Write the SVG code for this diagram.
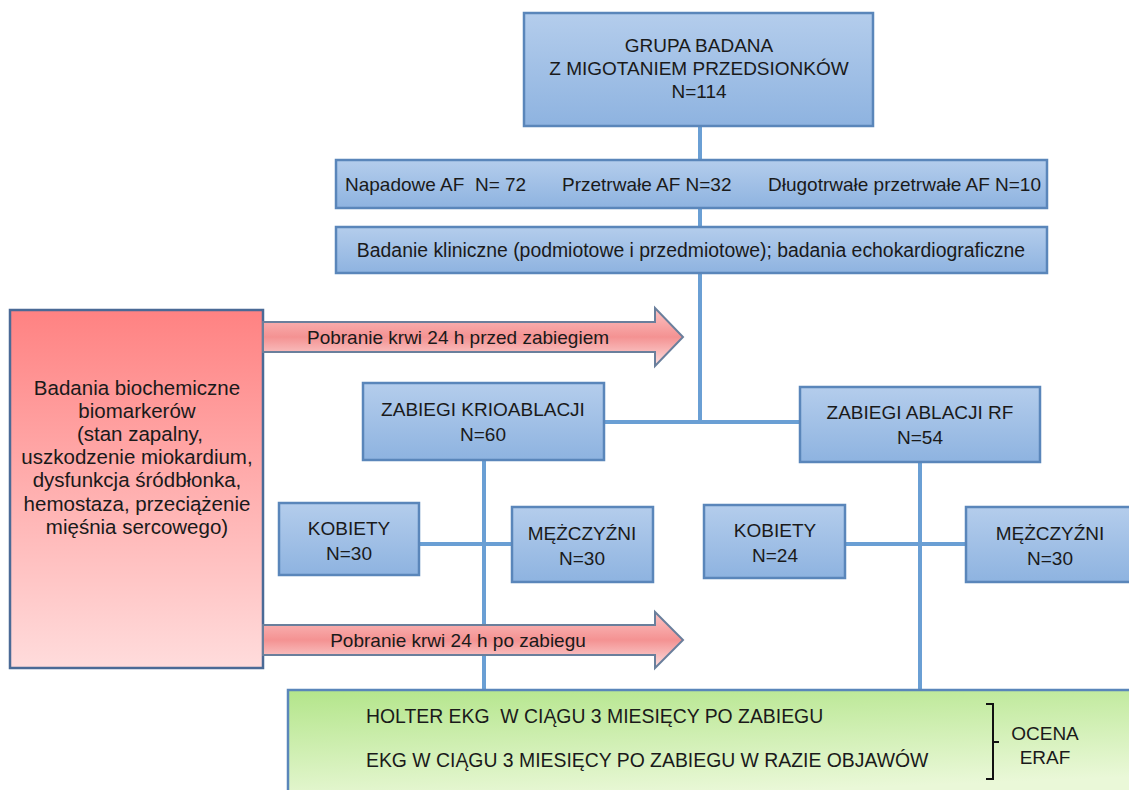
<svg xmlns="http://www.w3.org/2000/svg" width="1129" height="790" viewBox="0 0 1129 790">
<defs>
<linearGradient id="gBlue" x1="0" y1="0" x2="0" y2="1">
<stop offset="0" stop-color="#b4cdec"/>
<stop offset="1" stop-color="#8eb3e0"/>
</linearGradient>
<linearGradient id="gRed" x1="0" y1="0" x2="0" y2="1">
<stop offset="0" stop-color="#ff8282"/>
<stop offset="1" stop-color="#ffdcdc"/>
</linearGradient>
<linearGradient id="gArrow" x1="0" y1="0" x2="0" y2="1">
<stop offset="0" stop-color="#fcc4c4"/>
<stop offset="0.5" stop-color="#f49292"/>
<stop offset="1" stop-color="#fde0e0"/>
</linearGradient>
<linearGradient id="gGreen" x1="0" y1="0" x2="0.3" y2="1">
<stop offset="0" stop-color="#b3e58a"/>
<stop offset="1" stop-color="#eaf8d8"/>
</linearGradient>
</defs>
<style>
.box{fill:url(#gBlue);stroke:#5a86ba;stroke-width:2.5}
.red{fill:url(#gRed);stroke:#4a6a96;stroke-width:2.5}
.arr{fill:url(#gArrow);stroke:#6a7f9c;stroke-width:2}
.grn{fill:url(#gGreen);stroke:#5a86ba;stroke-width:2.5}
.con{fill:none;stroke:#6a9fd4;stroke-width:4}
text{font-family:"Liberation Sans",Arial,sans-serif;font-size:19px;fill:#1a1a1a}
.c{text-anchor:middle}
.lt{font-size:20.5px}
.g{font-size:19.4px}
.br{fill:none;stroke:#111;stroke-width:2}
</style>
<rect width="1129" height="790" fill="#ffffff"/>
<g id="connectors">
<path class="con" d="M700,126 V160"/>
<path class="con" d="M700,208 V227"/>
<path class="con" d="M700,273 V422 M604,422 H800"/>
<path class="con" d="M484,460 V690 M419,544 H512"/>
<path class="con" d="M920,462 V690 M845,544 H966"/>
</g>
<g id="n_top">
<rect class="box" x="524" y="13" width="349" height="113"/>
<text class="c" x="699" y="52">GRUPA BADANA</text>
<text class="c" x="699" y="75">Z MIGOTANIEM PRZEDSIONKÓW</text>
<text class="c" x="699" y="98">N=114</text>
</g>
<g id="n_types">
<rect class="box" x="336" y="160" width="711" height="48"/>
<text x="345" y="191" xml:space="preserve">Napadowe AF  N= 72</text>
<text x="562" y="191">Przetrwałe AF N=32</text>
<text x="768" y="191">Długotrwałe przetrwałe AF N=10</text>
</g>
<g id="n_clin">
<rect class="box" x="336" y="227" width="711" height="46"/>
<text class="c g" x="691" y="257">Badanie kliniczne (podmiotowe i przedmiotowe); badania echokardiograficzne</text>
</g>
<g id="n_bio">
<rect class="red" x="10" y="310" width="253" height="358"/>
<text class="c lt" x="137" y="395">Badania biochemiczne</text>
<text class="c lt" x="137" y="418">biomarkerów</text>
<text class="c lt" x="140" y="441">(stan zapalny,</text>
<text class="c lt" x="137" y="464">uszkodzenie miokardium,</text>
<text class="c lt" x="137" y="487">dysfunkcja śródbłonka,</text>
<text class="c lt" x="137" y="511">hemostaza, przeciążenie</text>
<text class="c lt" x="137" y="534">mięśnia sercowego)</text>
</g>
<g id="n_arrow1">
<path class="arr" d="M263,322 H655 V308 L683,337 L655,366 V352 H263 Z"/>
<text class="c" x="458" y="344">Pobranie krwi 24 h przed zabiegiem</text>
</g>
<g id="n_arrow2">
<path class="arr" d="M263,625 H655 V612 L683,640 L655,668 V655 H263 Z"/>
<text class="c" x="458" y="647">Pobranie krwi 24 h po zabiegu</text>
</g>
<g id="n_krio">
<rect class="box" x="363" y="383" width="241" height="77"/>
<text class="c" x="483" y="416">ZABIEGI KRIOABLACJI</text>
<text class="c" x="483" y="441">N=60</text>
</g>
<g id="n_rf">
<rect class="box" x="800" y="387" width="240" height="75"/>
<text class="c" x="920" y="419">ZABIEGI ABLACJI RF</text>
<text class="c" x="920" y="444">N=54</text>
</g>
<g id="n_k1">
<rect class="box" x="279" y="503" width="140" height="72"/>
<text class="c" x="349" y="535">KOBIETY</text>
<text class="c" x="349" y="560">N=30</text>
</g>
<g id="n_m1">
<rect class="box" x="512" y="507" width="141" height="75"/>
<text class="c" x="582" y="540">MĘŻCZYŹNI</text>
<text class="c" x="582" y="565">N=30</text>
</g>
<g id="n_k2">
<rect class="box" x="704" y="505" width="141" height="73"/>
<text class="c" x="775" y="537">KOBIETY</text>
<text class="c" x="775" y="562">N=24</text>
</g>
<g id="n_m2">
<rect class="box" x="966" y="507" width="170" height="75"/>
<text class="c" x="1050" y="540">MĘŻCZYŹNI</text>
<text class="c" x="1050" y="565">N=30</text>
</g>
<g id="n_ekg">
<rect class="grn" x="288" y="690" width="850" height="110"/>
<text class="g" x="366" y="723" xml:space="preserve">HOLTER EKG  W CIĄGU 3 MIESIĘCY PO ZABIEGU</text>
<text class="g" x="366" y="767">EKG W CIĄGU 3 MIESIĘCY PO ZABIEGU W RAZIE OBJAWÓW</text>
<path class="br" d="M986,704 H993 V779 H986 M993,742 H999"/>
<text class="c" x="1045" y="740">OCENA</text>
<text class="c" x="1045" y="764">ERAF</text>
</g>
</svg>
